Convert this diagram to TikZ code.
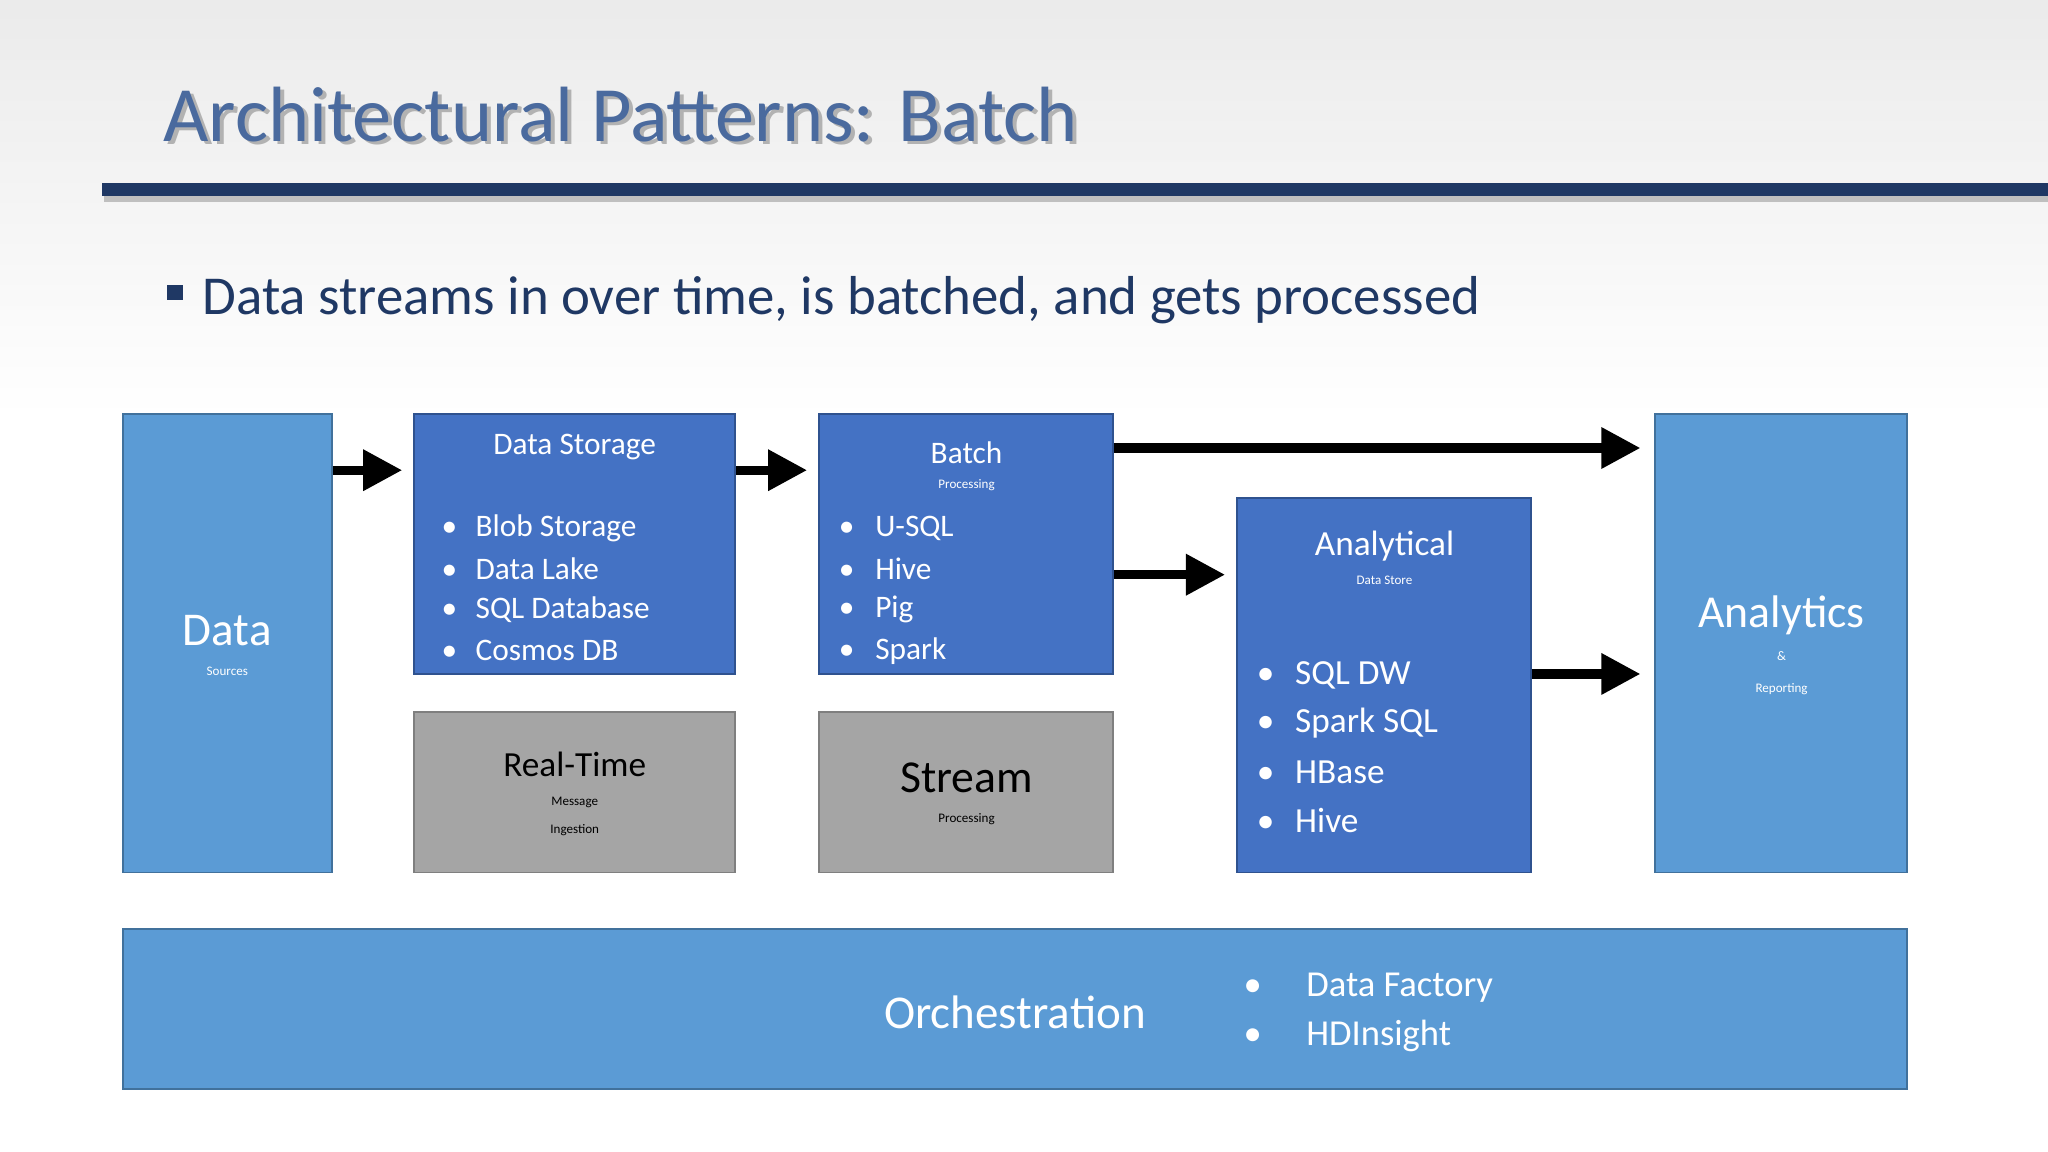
\documentclass[tikz,border=0pt]{standalone}
\usepackage{fontspec}
\setmainfont{Carlito}
\usetikzlibrary{arrows.meta,shadows}
\definecolor{titleBlue}{HTML}{4A6A9E}
\definecolor{navy}{HTML}{1F3864}
\definecolor{lightBlue}{HTML}{5B9BD5}
\definecolor{lightBorder}{HTML}{41719C}
\definecolor{midBlue}{HTML}{4472C4}
\definecolor{midBorder}{HTML}{2F528F}
\definecolor{grayFill}{HTML}{A5A5A5}
\definecolor{grayBorder}{HTML}{7F7F7F}
\newcommand{\fs}[1]{\fontsize{#1}{#1}\selectfont}
\tikzset{
  box/.style={draw=#1, line width=1.5pt, inner sep=0pt},
  light/.style={box=lightBorder, fill=lightBlue},
  mid/.style={box=midBorder, fill=midBlue},
  grey/.style={box=grayBorder, fill=grayFill},
  wtxt/.style={text=white, inner sep=0pt, align=center},
  btxt/.style={text=black, inner sep=0pt, align=center},
  item/.style={text=white, inner sep=0pt, anchor=west},
  flow/.style={line width=7pt, -{Triangle[length=30pt,width=30pt]}}
}
\begin{document}
\begin{tikzpicture}[x=1pt,y=-1pt]
\useasboundingbox (0,0) rectangle (1568,882);
% background
\shade[top color=black!8, bottom color=white] (0,0) rectangle (1568,320);
\fill[white] (0,320) rectangle (1568,882);

% title
\node[anchor=base west, inner sep=0pt, text=black!30] (titleshadow) at (128,111) {\fs{60}Architectural Patterns: Batch};
\node[anchor=base west, inner sep=0pt, text=titleBlue] (title) at (125,108) {\fs{60}Architectural Patterns: Batch};
\fill[black!25] (80,146) rectangle (1568,155);
\fill[navy] (78,140) rectangle (1568,150);

% bullet
\fill[navy] (128,218) rectangle (140,230);
\node[anchor=base west, inner sep=0pt, text=navy] (lead) at (155,241) {\fs{42}Data streams in over time, is batched, and gets processed};

% boxes
\node[light, minimum width=160pt, minimum height=351pt] (src) at (174,492.5) {};
\node[mid, minimum width=246pt, minimum height=199pt] (store) at (440,416.5) {};
\node[mid, minimum width=225pt, minimum height=199pt] (batch) at (739.5,416.5) {};
\node[grey, minimum width=246pt, minimum height=123pt] (rt) at (440,606.5) {};
\node[grey, minimum width=225pt, minimum height=123pt] (stream) at (739.5,606.5) {};
\node[mid, minimum width=225pt, minimum height=287pt] (ads) at (1059.5,524.5) {};
\node[light, minimum width=193pt, minimum height=351pt] (rep) at (1363.5,492.5) {};
\node[light, minimum width=1366pt, minimum height=123pt] (orch) at (777,772.5) {};

% texts
\node[wtxt] (srct) at (174,494) {\fs{36}Data\\[11pt]Sources};
\node[wtxt] (storet) at (440,342) {\fs{24}Data Storage};
\foreach \t [count=\i] in {Blob Storage, Data Lake, SQL Database, Cosmos DB}{
  \node[item] (s\i) at (338,{373+31.3*\i}) {\fs{24}\textbullet\hspace{14pt}\t};
}
\node[wtxt] (batcht) at (740,357) {\fs{24}Batch\\[7pt]Processing};
\foreach \t [count=\i] in {U-SQL, Hive, Pig, Spark}{
  \node[item] (b\i) at (642,{373+31.3*\i}) {\fs{24}\textbullet\hspace{16pt}\t};
}
\node[btxt] (rtt) at (440,608) {\fs{27}Real-Time\\[10pt]Message\\[10pt]Ingestion};
\node[btxt] (streamt) at (740,608) {\fs{35}Stream\\[11pt]Processing};
\node[wtxt] (adst) at (1060,427) {\fs{27}Analytical\\[10pt]Data Store};
\foreach \t [count=\i] in {SQL DW, Spark SQL, HBase, Hive}{
  \node[item] (a\i) at (962,{480+37*\i}) {\fs{27}\textbullet\hspace{16pt}\t};
}
\node[wtxt] (rept) at (1364,494) {\fs{35}Analytics\\[12pt]\&\\[12pt]Reporting};
\node[wtxt] (orcht) at (777,775) {\fs{36}Orchestration};
\node[item] (o1) at (952,756) {\fs{28}\textbullet\hspace{34pt}Data Factory};
\node[item] (o2) at (952,793) {\fs{28}\textbullet\hspace{34pt}HDInsight};

% arrows
\coordinate (e1) at (308,360);
\coordinate (e2) at (618,360);
\coordinate (e3) at (1256,343);
\coordinate (e4) at (938,440);
\coordinate (e5) at (1256,516);
\draw[flow] (src.east |- e1) -- (e1);
\draw[flow] (store.east |- e2) -- (e2);
\draw[flow] (batch.east |- e3) -- (e3);
\draw[flow] (batch.east |- e4) -- (e4);
\draw[flow] (ads.east |- e5) -- (e5);
\end{tikzpicture}
\end{document}
